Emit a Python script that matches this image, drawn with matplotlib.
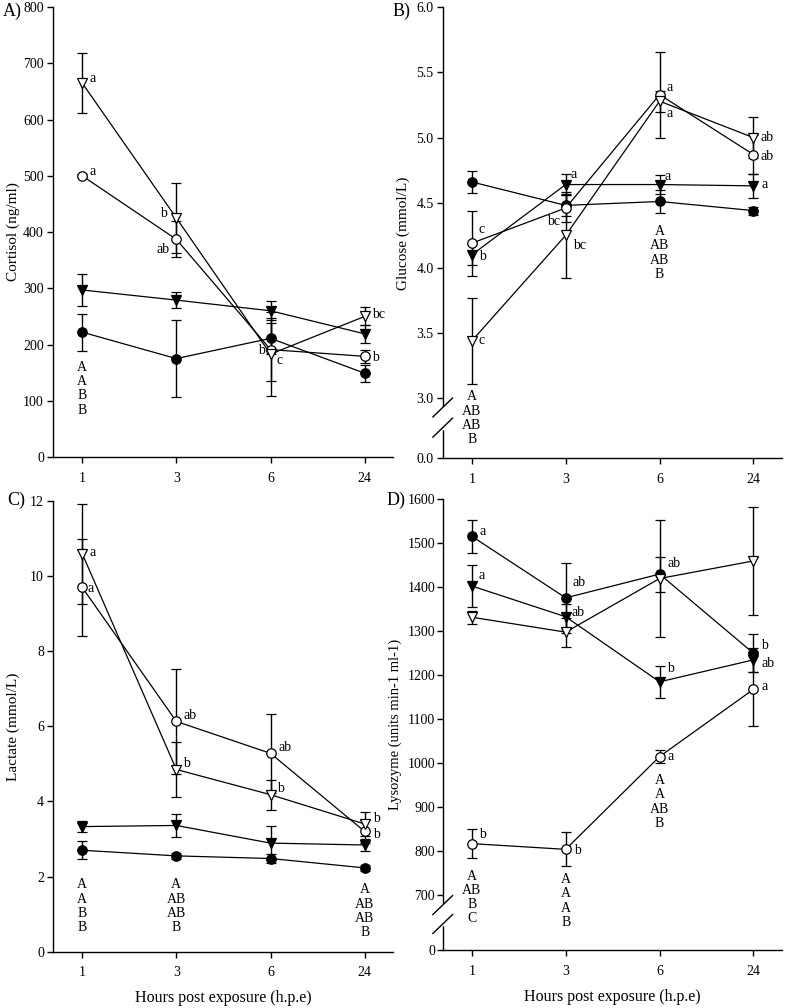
import numpy as np
import matplotlib
matplotlib.use("Agg")
import matplotlib.pyplot as plt

plt.rcParams['font.family'] = ['Liberation Serif', 'DejaVu Serif']
plt.rcParams['font.size'] = 10

# temps (h.p.e)
heures = ['1', '3', '6', '24']

# A) Cortisol (ng/ml)
cort_fc = [222, 175, 211, 149]
cort_fc_err = [33, 69, 28, 15]
cort_ft = [297, 279, 260, 219]
cort_ft_err = [29, 14, 17, 16]
cort_oc = [500, 387, 191, 179]
cort_oc_err = [3, 32, 56, 11]
cort_ot = [665, 425, 183, 250]
cort_ot_err = [53, 63, 75, 16]

# B) Glucose (mmol/L)
glu_fc = [4.66, 4.48, 4.51, 4.44]
glu_fc_err = [0.085, 0.08, 0.09, 0.03]
glu_ft = [4.10, 4.64, 4.64, 4.63]
glu_ft_err = [0.08, 0.08, 0.07, 0.09]
glu_oc = [4.19, 4.46, 5.33, 4.87]
glu_oc_err = [0.25, 0.11, 0.33, 0.15]
glu_ot = [3.44, 4.25, 5.28, 5.00]
glu_ot_err = [0.33, 0.33, 0.08, 0.16]

# C) Lactate (mmol/L)
lac_fc = [2.70, 2.55, 2.48, 2.23]
lac_fc_err = [0.24, 0.08, 0.12, 0.07]
lac_ft = [3.33, 3.36, 2.89, 2.84]
lac_ft_err = [0.15, 0.30, 0.45, 0.17]
lac_oc = [9.70, 6.13, 5.28, 3.20]
lac_oc_err = [1.30, 1.40, 1.06, 0.30]
lac_ot = [10.6, 4.85, 4.18, 3.40]
lac_ot_err = [1.33, 0.73, 0.40, 0.31]

# D) Lysozyme (units min-1 ml-1)
lys_fc = [1516, 1376, 1430, 1250]
lys_fc_err = [38, 79, 40, 43]
lys_ft = [1403, 1333, 1185, 1235]
lys_ft_err = [47, 28, 36, 28]
lys_oc = [817, 804, 1015, 1168]
lys_oc_err = [33, 39, 15, 84]
lys_ot = [1332, 1298, 1420, 1460]
lys_ot_err = [15, 33, 132, 123]

x = np.arange(len(heures))

# styles des 4 groupes : rond plein, triangle plein, rond vide, triangle vide
styles = {
    'fc': dict(marker='o', mfc='black', ms=6.8),
    'ft': dict(marker='v', mfc='black', ms=7.2),
    'oc': dict(marker='o', mfc='white', ms=6.8),
    'ot': dict(marker='v', mfc='white', ms=7.2),
}


def trace(ax, series):
    for cle, (val, err) in series.items():
        st = styles[cle]
        ax.errorbar(x, val, yerr=err, color='black', lw=0.9, elinewidth=1.0,
                    capsize=3.6, capthick=1.0, marker=st['marker'], ms=st['ms'],
                    mfc=st['mfc'], mec='black', mew=0.9, zorder=3)


def lettres(ax, series, liste):
    # liste : (groupe, index temps, texte, dx, dy, ha) en pixels
    for cle, i, txt, dx, dy, ha in liste:
        ax.annotate(txt, (x[i], series[cle][0][i]), xytext=(dx, dy),
                    textcoords='offset pixels', ha=ha, va='center', fontsize=10)


def pile(ax, i, yv, txt):
    ax.text(x[i], yv, txt, ha='center', va='top', fontsize=10, linespacing=1.13)


def style_axe(ax):
    ax.spines['top'].set_visible(False)
    ax.spines['right'].set_visible(False)
    ax.spines['left'].set_linewidth(1.0)
    ax.spines['bottom'].set_linewidth(1.0)
    ax.set_xlim(-0.31, 3.3)
    ax.set_xticks(x)
    ax.set_xticklabels(heures)
    ax.tick_params(axis='y', direction='out', length=4, width=1.0, pad=2.5)
    ax.tick_params(axis='x', direction='out', length=4.5, width=1.0, pad=6)


def coupure(ax, y1, y2):
    ax.plot([0, 0], [y2, y1], transform=ax.transAxes, color='white', lw=2.5,
            clip_on=False, zorder=4)
    for yc in (y1, y2):
        ax.plot([-0.029, 0.029], [yc - 0.021, yc + 0.021], transform=ax.transAxes,
                color='black', lw=1.0, clip_on=False, zorder=5)


fig = plt.figure(figsize=(7.87, 10.08), dpi=100)
axA = fig.add_axes([0.0673, 0.5466, 0.432, 0.4464])
axB = fig.add_axes([0.5625, 0.5453, 0.4307, 0.4474])
axC = fig.add_axes([0.0673, 0.0559, 0.432, 0.4471])
axD = fig.add_axes([0.5625, 0.0575, 0.4307, 0.4471])

# A) cortisol
sA = {'fc': (cort_fc, cort_fc_err), 'ft': (cort_ft, cort_ft_err),
      'oc': (cort_oc, cort_oc_err), 'ot': (cort_ot, cort_ot_err)}
trace(axA, sA)
style_axe(axA)
axA.set_ylim(0, 800)
axA.set_yticks(range(0, 801, 100))
axA.set_ylabel('Cortisol (ng/ml)', fontsize=11)
axA.yaxis.set_label_coords(-0.098, 0.5)
lettres(axA, sA, [('ot', 0, 'a', 7, 4, 'left'), ('oc', 0, 'a', 7, 4, 'left'),
                  ('ot', 1, 'b', -9, 4, 'right'), ('oc', 1, 'ab', -7, -10, 'right'),
                  ('oc', 2, 'b', -6, -1, 'right'), ('ot', 2, 'c', 6, -6, 'left'),
                  ('ot', 3, 'bc', 7, 2, 'left'), ('oc', 3, 'b', 7, -1, 'left')])
pile(axA, 0, 171, 'A\nA\nB\nB')

# B) glucose, axe coupé entre 0 et 3
bas_B = 3.0 - 60 / 130
sB = {'fc': (glu_fc, glu_fc_err), 'ft': (glu_ft, glu_ft_err),
      'oc': (glu_oc, glu_oc_err), 'ot': (glu_ot, glu_ot_err)}
trace(axB, sB)
style_axe(axB)
axB.set_ylim(bas_B, 6.0)
axB.set_yticks([bas_B, 3.0, 3.5, 4.0, 4.5, 5.0, 5.5, 6.0])
axB.set_yticklabels(['0.0', '3.0', '3.5', '4.0', '4.5', '5.0', '5.5', '6.0'])
axB.set_ylabel('Glucose (mmol/L)', fontsize=11)
axB.yaxis.set_label_coords(-0.095, 0.5)
coupure(axB, 0.1127, 0.068)
lettres(axB, sB, [('oc', 0, 'c', 7, 14, 'left'), ('ft', 0, 'b', 7, -2, 'left'),
                  ('ot', 0, 'c', 7, 0, 'left'),
                  ('ft', 1, 'a', 5, 10, 'left'), ('oc', 1, 'bc', -6, -14, 'right'),
                  ('ot', 1, 'bc', 7, -10, 'left'),
                  ('oc', 2, 'a', 7, 7, 'left'), ('ot', 2, 'a', 7, -12, 'left'),
                  ('ft', 2, 'a', 5, 8, 'left'),
                  ('ot', 3, 'ab', 7, 0, 'left'), ('oc', 3, 'ab', 7, -2, 'left'),
                  ('ft', 3, 'a', 8, 1, 'left')])
pile(axB, 2, 4.33, 'A\nAB\nAB\nB')
pile(axB, 0, 3.06, 'A\nAB\nAB\nB')

# C) lactate
sC = {'fc': (lac_fc, lac_fc_err), 'ft': (lac_ft, lac_ft_err),
      'oc': (lac_oc, lac_oc_err), 'ot': (lac_ot, lac_ot_err)}
trace(axC, sC)
style_axe(axC)
axC.set_ylim(0, 12)
axC.set_yticks(range(0, 13, 2))
axC.set_ylabel('Lactate (mmol/L)', fontsize=11)
axC.yaxis.set_label_coords(-0.098, 0.5)
axC.set_xlabel('Hours post exposure (h.p.e)', fontsize=11.5, labelpad=8)
lettres(axC, sC, [('ot', 0, 'a', 7, 1, 'left'), ('oc', 0, 'a', 5, -1, 'left'),
                  ('oc', 1, 'ab', 7, 6, 'left'), ('ot', 1, 'b', 7, 6, 'left'),
                  ('oc', 2, 'ab', 8, 6, 'left'), ('ot', 2, 'b', 7, 6, 'left'),
                  ('ot', 3, 'b', 8, 5, 'left'), ('oc', 3, 'b', 8, -3, 'left')])
pile(axC, 0, 1.95, 'A\nA\nB\nB')
pile(axC, 1, 1.95, 'A\nAB\nAB\nB')
pile(axC, 3, 1.82, 'A\nAB\nAB\nB')

# D) lysozyme, axe coupé entre 0 et 700
bas_D = 700 - 55 / 0.44
sD = {'fc': (lys_fc, lys_fc_err), 'ft': (lys_ft, lys_ft_err),
      'oc': (lys_oc, lys_oc_err), 'ot': (lys_ot, lys_ot_err)}
trace(axD, sD)
style_axe(axD)
axD.set_ylim(bas_D, 1600)
ticksD = [bas_D] + list(range(700, 1601, 100))
axD.set_yticks(ticksD)
axD.set_yticklabels(['0'] + [str(v) for v in range(700, 1601, 100)])
axD.tick_params(axis='y', pad=1.5)
axD.set_ylabel('Lysozyme (units min-1 ml-1)', fontsize=10.5)
axD.yaxis.set_label_coords(-0.12, 0.5)
axD.set_xlabel('Hours post exposure (h.p.e)', fontsize=11.5, labelpad=8)
coupure(axD, 0.0998, 0.0577)
lettres(axD, sD, [('fc', 0, 'a', 8, 5, 'left'), ('ft', 0, 'a', 7, 10, 'left'),
                  ('oc', 0, 'b', 7, 9, 'left'),
                  ('fc', 1, 'ab', 7, 15, 'left'), ('ft', 1, 'ab', 6, 4, 'left'),
                  ('oc', 1, 'b', 8, -1, 'left'),
                  ('fc', 2, 'ab', 8, 11, 'left'), ('ft', 2, 'b', 7, 13, 'left'),
                  ('oc', 2, 'a', 8, 0, 'left'),
                  ('fc', 3, 'b', 8, 8, 'left'), ('ft', 3, 'ab', 8, -4, 'left'),
                  ('oc', 3, 'a', 8, 3, 'left')])
pile(axD, 2, 975, 'A\nA\nAB\nB')
pile(axD, 0, 758, 'A\nAB\nB\nC')
pile(axD, 1, 750, 'A\nA\nA\nB')

# étiquettes des panneaux
for lab, px, py in [('A)', 3, 3), ('B)', 393, 3), ('C)', 7, 492), ('D)', 387, 492)]:
    fig.text(px / 787, 1 - py / 1008, lab, fontsize=13, ha='left', va='top')

fig.savefig('out.png', dpi=100)
